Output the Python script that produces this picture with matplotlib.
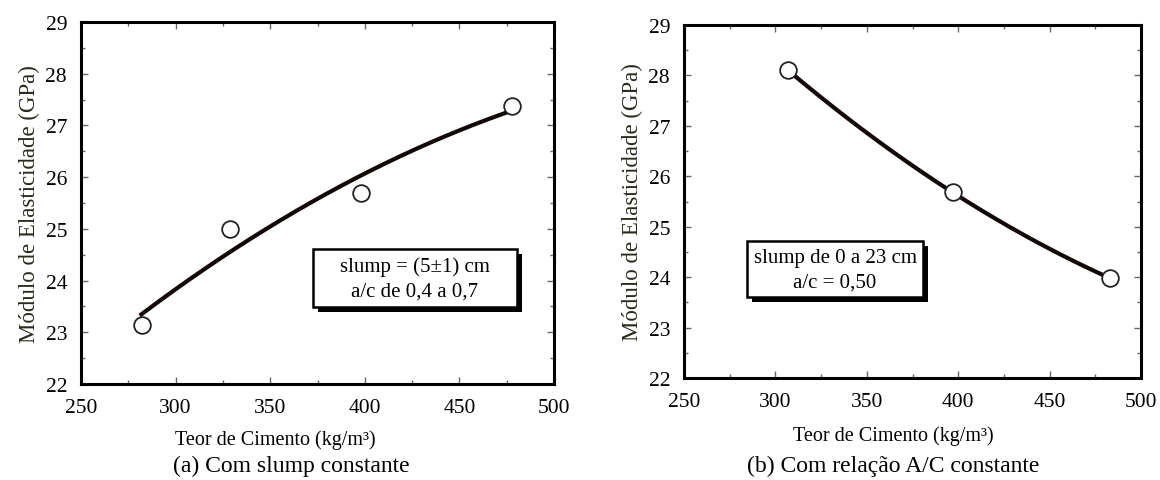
import numpy as np
import matplotlib
matplotlib.use("Agg")
import matplotlib.pyplot as plt
from matplotlib.patches import Rectangle
from matplotlib.ticker import MultipleLocator

plt.rcParams['font.family'] = ['Liberation Serif', 'DejaVu Serif']
plt.rcParams['mathtext.fontset'] = 'stix'

# (a) constant slump
cement_a = [282, 329, 398, 478]
modulus_a = [23.15, 25.0, 25.7, 27.38]

# (b) constant w/c ratio
cement_b = [307, 397, 483]
modulus_b = [28.1, 25.68, 23.98]

x_ticks = [250, 300, 350, 400, 450, 500]
y_ticks = [22, 23, 24, 25, 26, 27, 28, 29]

xlabel = "Teor de Cimento (kg/m³)"
ylabel = "Módulo de Elasticidade (GPa)"
captions = ["(a) Com slump constante", "(b) Com relação A/C constante"]
notes = [["slump = (5±1) cm", "a/c de 0,4 a 0,7"],
         ["slump de 0 a 23 cm", "a/c = 0,50"]]

W, H = 1160, 481
fig = plt.figure(figsize=(W / 100, H / 100), dpi=100)
fig.patch.set_facecolor('white')


def px_axes(x0, y0, x1, y1):
    return fig.add_axes([x0 / W, 1 - y1 / H, (x1 - x0) / W, (y1 - y0) / H])


ax_a = px_axes(81, 23, 554, 385)
ax_b = px_axes(684, 26, 1141, 379)

line_col = '#120808'
tick_col = '#666666'
ylab_col = '#2a2a1c'


def style(ax):
    ax.set_xlim(250, 500)
    ax.set_ylim(22, 29)
    ax.set_xticks(x_ticks)
    ax.set_yticks(y_ticks)
    ax.xaxis.set_minor_locator(MultipleLocator(25))
    ax.yaxis.set_minor_locator(MultipleLocator(0.5))
    ax.tick_params(which='both', direction='in', top=True, right=True,
                   color=tick_col, width=1.0)
    ax.tick_params(which='major', length=5, labelsize=15.5, pad=10)
    ax.tick_params(which='minor', length=3)
    for s in ax.spines.values():
        s.set_linewidth(2.2)
        s.set_color('black')
    ax.set_ylabel(ylabel, fontsize=16.5, color=ylab_col, labelpad=4)


def note_box(ax, x0, y0, x1, y1, lines, dx, dy):
    ax.add_patch(Rectangle((x0 + dx, y0 - dy), x1 - x0, y1 - y0,
                           transform=ax.transAxes, facecolor='black',
                           edgecolor='black', lw=0, zorder=4))
    ax.add_patch(Rectangle((x0, y0), x1 - x0, y1 - y0,
                           transform=ax.transAxes, facecolor='white',
                           edgecolor='black', lw=1.8, zorder=5))
    cx = (x0 + x1) / 2
    ax.text(cx, y0 + (y1 - y0) * 0.70, lines[0], transform=ax.transAxes,
            ha='center', va='center', fontsize=15, zorder=6)
    ax.text(cx, y0 + (y1 - y0) * 0.27, lines[1], transform=ax.transAxes,
            ha='center', va='center', fontsize=15, zorder=6)


# panel (a): quadratic trend through the measurements
style(ax_a)
coef_a = np.polyfit(cement_a, modulus_a, 2)
xa = np.linspace(281, 476, 200)
ax_a.plot(xa, np.polyval(coef_a, xa), color=line_col, lw=3.0,
          solid_capstyle='butt', zorder=2)
ax_a.plot(cement_a, modulus_a, 'o', ms=12, mfc='white', mec='#222222',
          mew=1.3, zorder=3)
note_box(ax_a, 0.4905, 0.2127, 0.9218, 0.3729, notes[0], 0.0106, 0.0138)

# panel (b): smooth curve through the three measurements
style(ax_b)
coef_b = np.polyfit(cement_b, modulus_b, 2)
xb = np.linspace(cement_b[0], cement_b[-1], 200)
ax_b.plot(xb, np.polyval(coef_b, xb), color=line_col, lw=3.0, zorder=2)
ax_b.plot(cement_b, modulus_b, 'o', ms=12, mfc='white', mec='#222222',
          mew=1.3, zorder=3)
note_box(ax_b, 0.1379, 0.2295, 0.523, 0.388, notes[1], 0.0109, 0.0142)

# axis titles and captions below each panel
fig.text(275 / W, 1 - 440 / H, xlabel, ha='center', va='center', fontsize=14.5)
fig.text(893 / W, 1 - 436 / H, xlabel, ha='center', va='center', fontsize=14.5)
fig.text(291 / W, 1 - 466 / H, captions[0], ha='center', va='center', fontsize=17)
fig.text(893 / W, 1 - 466 / H, captions[1], ha='center', va='center', fontsize=17)

fig.savefig("out.png", dpi=100, facecolor='white')
